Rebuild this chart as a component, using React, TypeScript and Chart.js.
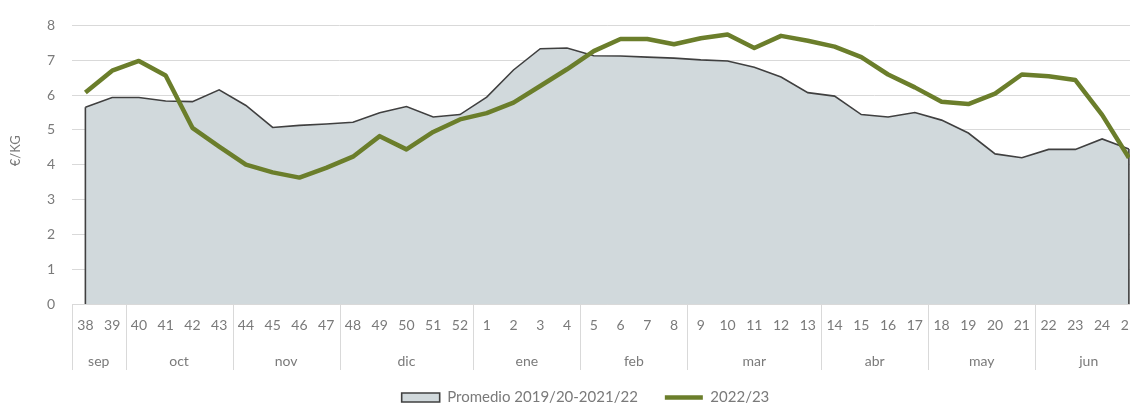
import { useEffect, useRef } from 'react';
import { Chart, registerables } from 'chart.js';

Chart.register(...registerables);

const weeks = ['38', '39', '40', '41', '42', '43', '44', '45', '46', '47', '48', '49', '50', '51', '52', '1', '2', '3', '4', '5', '6', '7', '8', '9', '10', '11', '12', '13', '14', '15', '16', '17', '18', '19', '20', '21', '22', '23', '24', '25'];
const months = ['sep', 'oct', 'nov', 'dic', 'ene', 'feb', 'mar', 'abr', 'may', 'jun'];
const weeksPerMonth = [2, 4, 4, 5, 4, 4, 5, 4, 4, 4];

const promedio = [5.65, 5.93, 5.93, 5.83, 5.81, 6.15, 5.7, 5.07, 5.13, 5.17, 5.22, 5.49, 5.67, 5.37, 5.44, 5.94, 6.72, 7.33, 7.35, 7.13, 7.12, 7.09, 7.06, 7.01, 6.98, 6.8, 6.52, 6.07, 5.97, 5.44, 5.37, 5.5, 5.28, 4.91, 4.31, 4.2, 4.44, 4.44, 4.74, 4.45];
const campana = [6.07, 6.7, 6.98, 6.56, 5.06, 4.52, 4.0, 3.78, 3.63, 3.91, 4.23, 4.82, 4.44, 4.94, 5.3, 5.48, 5.78, 6.26, 6.74, 7.26, 7.61, 7.61, 7.46, 7.63, 7.74, 7.35, 7.7, 7.56, 7.39, 7.09, 6.59, 6.22, 5.81, 5.74, 6.04, 6.59, 6.54, 6.43, 5.43, 4.2];

const seriesNames = ['Promedio 2019/20-2021/22', '2022/23'];
const yTitle = '€/KG';
const yMin = 0;
const yMax = 8;
const yStep = 1;

const FONT = 'Lato, "Noto Sans", sans-serif';
const TEXT = '#7a7a7a';
const GRID = '#d9d9d9';
const AREA_FILL = '#d1d9dc';
const AREA_LINE = '#404040';
const GREEN = '#6b7e2b';

const areaEdges = {
  id: 'areaEdges',
  afterDatasetDraw(chart: any, args: any) {
    if (args.index !== 0) return;
    const pts = args.meta.data;
    if (!pts.length) return;
    const base = chart.scales.y.getPixelForValue(0);
    const ctx = chart.ctx;
    ctx.save();
    ctx.strokeStyle = AREA_LINE;
    ctx.lineWidth = 1.6;
    [pts[0], pts[pts.length - 1]].forEach((p: any) => {
      ctx.beginPath();
      ctx.moveTo(p.x, p.y);
      ctx.lineTo(p.x, base);
      ctx.stroke();
    });
    ctx.restore();
  },
};

const monthRow = {
  id: 'monthRow',
  afterDraw(chart: any) {
    const xs = chart.scales.x;
    const ctx = chart.ctx;
    const bottom = chart.chartArea.bottom;
    const step = xs.getPixelForValue(1) - xs.getPixelForValue(0);
    ctx.save();
    ctx.strokeStyle = GRID;
    ctx.lineWidth = 1;
    ctx.fillStyle = TEXT;
    ctx.font = `14px ${FONT}`;
    ctx.textAlign = 'center';
    ctx.textBaseline = 'middle';
    let start = 0;
    months.forEach((m, k) => {
      const n = weeksPerMonth[k];
      const x0 = xs.getPixelForValue(start) - step / 2;
      const x1 = xs.getPixelForValue(start + n - 1) + step / 2;
      const lx = Math.round(x0) + 0.5;
      ctx.beginPath();
      ctx.moveTo(lx, bottom);
      ctx.lineTo(lx, bottom + 66);
      ctx.stroke();
      ctx.fillText(m, (x0 + x1) / 2, bottom + 57);
      start += n;
    });
    ctx.restore();
  },
};

const axisTitle = {
  id: 'axisTitle',
  afterDraw(chart: any) {
    const ctx = chart.ctx;
    const { top, bottom } = chart.chartArea;
    ctx.save();
    ctx.fillStyle = TEXT;
    ctx.font = `13px ${FONT}`;
    ctx.textAlign = 'center';
    ctx.textBaseline = 'middle';
    ctx.translate(16, (top + bottom) / 2 - 14);
    ctx.rotate(-Math.PI / 2);
    ctx.fillText(yTitle, 0, 0);
    ctx.restore();
  },
};

export default function App() {
  const ref = useRef<HTMLCanvasElement>(null);

  useEffect(() => {
    if (!ref.current) return;
    const chart = new Chart(ref.current, {
      type: 'line',
      data: {
        labels: weeks,
        datasets: [
          {
            label: seriesNames[0],
            data: promedio,
            fill: 'origin',
            backgroundColor: AREA_FILL,
            borderColor: AREA_LINE,
            borderWidth: 1.6,
            pointRadius: 0,
            pointStyle: 'rect',
            tension: 0,
            order: 1,
          },
          {
            label: seriesNames[1],
            data: campana,
            fill: false,
            backgroundColor: GREEN,
            borderColor: GREEN,
            borderWidth: 4.5,
            borderJoinStyle: 'round',
            pointRadius: 0,
            pointStyle: 'line',
            tension: 0,
            order: 0,
          },
        ],
      },
      options: {
        responsive: false,
        animation: false,
        devicePixelRatio: 1,
        layout: { padding: { top: 16, right: 0, left: 21, bottom: 0 } },
        plugins: {
          legend: {
            position: 'bottom',
            labels: {
              usePointStyle: true,
              pointStyleWidth: 38,
              boxHeight: 9,
              padding: 27,
              color: TEXT,
              font: { family: FONT, size: 15 },
              sort: (a: any, b: any) => a.datasetIndex - b.datasetIndex,
            },
          },
          tooltip: { enabled: false },
        },
        scales: {
          x: {
            type: 'category',
            offset: true,
            grid: { display: false, drawTicks: false },
            border: { display: true, color: GRID, width: 1 },
            ticks: {
              autoSkip: false,
              maxRotation: 0,
              minRotation: 0,
              padding: 13,
              color: TEXT,
              font: { family: FONT, size: 14 },
            },
            afterFit: (s: any) => {
              s.height = 59;
            },
          },
          y: {
            min: yMin,
            max: yMax,
            ticks: {
              stepSize: yStep,
              padding: 17,
              color: TEXT,
              font: { family: FONT, size: 14 },
            },
            grid: { color: GRID, lineWidth: 1, drawTicks: false },
            border: { display: false },
            afterFit: (s: any) => {
              s.width = 51;
            },
          },
        },
      },
      plugins: [areaEdges, monthRow, axisTitle],
    });
    return () => chart.destroy();
  }, []);

  return (
    <div style={{ position: 'fixed', left: 0, top: 0, width: 1130, height: 407, overflow: 'hidden', background: '#fff' }}>
      <canvas ref={ref} width={1150} height={415} style={{ width: 1150, height: 415, display: 'block' }} />
    </div>
  );
}
